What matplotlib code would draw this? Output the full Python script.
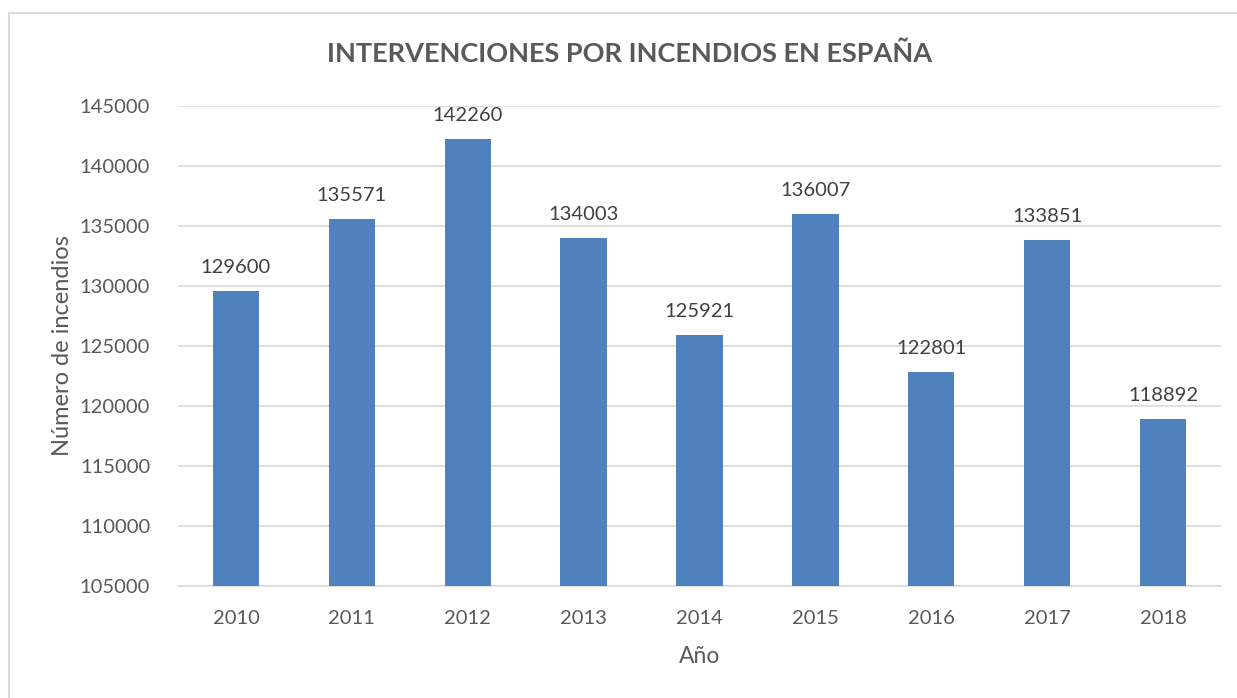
#! python3
# plot.py - bar chart of fire interventions in Spain, 2010-2018

import matplotlib.pyplot as plt
from matplotlib.patches import Rectangle

years = ['2010', '2011', '2012', '2013', '2014', '2015', '2016', '2017', '2018']
fires = [129600, 135571, 142260, 134003, 125921, 136007, 122801, 133851, 118892]
y_ticks = [105000, 110000, 115000, 120000, 125000, 130000, 135000, 140000, 145000]

text_color = '#595959'
plt.rcParams['font.family'] = ['Lato', 'DejaVu Sans']

fig = plt.figure(figsize=(12.37, 6.98), dpi=100)
W, H = 1237, 698
ax = fig.add_axes([178 / W, 1 - 586 / H, (1221 - 178) / W, (586 - 106) / H])

# light gray chart frame (only top and left edges fall inside the image)
fig.patches.append(Rectangle((9 / W, -0.1), 1.2, 1 - 13 / H + 0.1,
                             transform=fig.transFigure, fill=False,
                             edgecolor='#D9D9D9', linewidth=1.5))

x = range(len(years))
bars = ax.bar(x, [v - y_ticks[0] for v in fires], bottom=y_ticks[0],
              width=0.4, color='#4F81BD', zorder=3)

for xi, v in zip(x, fires):
    ax.annotate(str(v), (xi, v), xytext=(0, 11), textcoords='offset points',
                ha='center', va='bottom', fontsize=14.5, color='#404040')

ax.set_xlim(-0.5, len(years) - 0.5)
ax.set_ylim(y_ticks[0], y_ticks[-1])
ax.set_yticks(y_ticks)
ax.set_xticks(list(x))
ax.set_xticklabels(years)
ax.tick_params(axis='both', length=0, labelsize=14.5, labelcolor=text_color)
ax.tick_params(axis='y', pad=20)
ax.tick_params(axis='x', pad=17)
ax.grid(axis='y', color='#D9D9D9', linewidth=1.2, zorder=0)
for side in ['top', 'right', 'left']:
    ax.spines[side].set_visible(False)
ax.spines['bottom'].set_color('#D9D9D9')
ax.spines['bottom'].set_linewidth(1.2)

ax.set_xlabel('Año', fontsize=16.5, color=text_color, labelpad=14)
ax.set_ylabel('Número de incendios', fontsize=17, color=text_color, labelpad=5)
fig.text(630 / W, 1 - 54 / H, 'INTERVENCIONES POR INCENDIOS EN ESPAÑA',
         ha='center', va='center', fontsize=19.5, fontweight='bold', color=text_color)

plt.savefig('out.png', dpi=100)
